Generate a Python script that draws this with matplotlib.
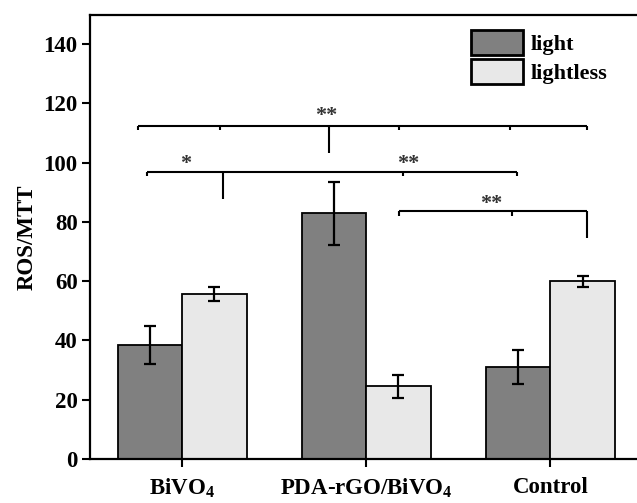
import matplotlib.pyplot as plt
import numpy as np

plt.rcParams['font.family'] = 'Liberation Serif'
plt.rcParams['font.weight'] = 'bold'
plt.rcParams['mathtext.fontset'] = 'custom'
plt.rcParams['mathtext.rm'] = 'Liberation Serif:bold'
plt.rcParams['mathtext.bf'] = 'Liberation Serif:bold'
plt.rcParams['mathtext.it'] = 'Liberation Serif:bold:italic'

# data
groups = [r'BiVO$_\mathbf{4}$', r'PDA-rGO/BiVO$_\mathbf{4}$', 'Control']
light = [38.5, 82.9, 31.1]
light_err = [6.5, 10.7, 5.7]
lightless = [55.7, 24.6, 59.9]
lightless_err = [2.5, 3.9, 1.7]
series_labels = ['light', 'lightless']
yticks = [0, 20, 40, 60, 80, 100, 120, 140]

# significance brackets: (x start, x end, y, [(drop x, drop bottom), ...])
brackets = [
    (-0.24, 2.20, 112.3, [(-0.24, 110.9), (0.205, 110.9), (0.80, 103.4), (1.18, 110.9), (1.78, 110.9), (2.20, 110.9)]),
    (-0.19, 1.82, 96.8, [(-0.19, 95.4), (0.22, 87.7), (1.20, 95.4), (1.82, 95.4)]),
    (1.18, 2.20, 83.6, [(1.18, 81.9), (1.79, 81.9), (2.20, 74.7)]),
]
star_text = ['**', '*', '**', '**']
star_x = [0.78, 0.02, 1.23, 1.68]
star_y = [114.0, 97.7, 98.0, 84.3]

fig = plt.figure(figsize=(6.37, 5.03), dpi=100)
ax = fig.add_axes([90 / 637, 44 / 503, 547 / 637, 444.5 / 503])

x = np.arange(len(groups))
w = 0.35
ekw = dict(elinewidth=1.6, capthick=1.6, ecolor='black')
ax.bar(x - w / 2, light, w, yerr=light_err, color='#808080', edgecolor='black',
       linewidth=1.3, capsize=4.2, error_kw=ekw, label=series_labels[0])
ax.bar(x + w / 2, lightless, w, yerr=lightless_err, color='#e8e8e8', edgecolor='black',
       linewidth=1.3, capsize=4.2, error_kw=ekw, label=series_labels[1])

for x0, x1, y, drops in brackets:
    ax.plot([x0, x1], [y, y], color='black', lw=1.5, solid_capstyle='butt')
    for dx, dy in drops:
        ax.plot([dx, dx], [y, dy], color='black', lw=1.5, solid_capstyle='butt')

for t, sx, sy in zip(star_text, star_x, star_y):
    ax.text(sx, sy, t, ha='center', va='baseline', fontsize=16, color='#333333')

ax.set_xlim(-0.5, 2.47)
ax.set_ylim(0, 150)
ax.set_xticks(x, groups)
ax.set_yticks(yticks)
ax.tick_params(axis='both', direction='out', length=6, width=1.5, labelsize=16.5)
ax.tick_params(axis='y', pad=3)
ax.tick_params(axis='x', pad=7)
ax.set_ylabel('ROS/MTT', fontsize=16.5, fontweight='bold', labelpad=4)

for s in ['left', 'bottom', 'top']:
    ax.spines[s].set_linewidth(1.6)
ax.spines['right'].set_visible(False)

leg = ax.legend(loc='upper left', bbox_to_anchor=(471 / 637, 1 - 30 / 503),
                bbox_transform=fig.transFigure, frameon=False, fontsize=16,
                handlelength=2.36, handleheight=1.38, handletextpad=0.3,
                labelspacing=0.15, borderpad=0, borderaxespad=0)
for h in leg.legend_handles:
    h.set_linewidth(2)

fig.savefig('out.png', dpi=100)
